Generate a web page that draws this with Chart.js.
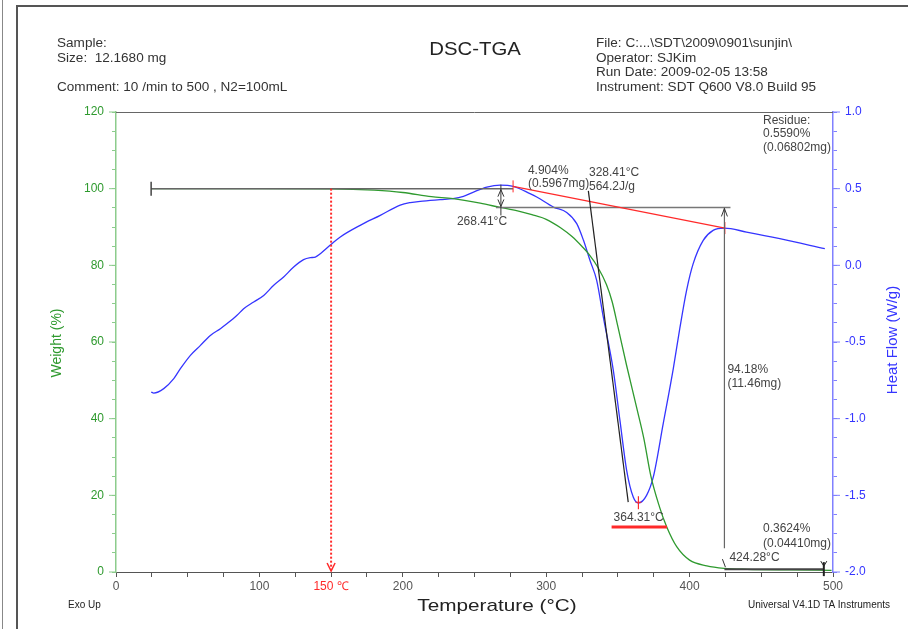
<!DOCTYPE html>
<html>
<head>
<meta charset="utf-8">
<script src="https://cdn.jsdelivr.net/npm/chart.js@4.4.0/dist/chart.umd.min.js"></script>
<style>
  html,body{margin:0;padding:0;background:#fff;}
  #wrap{position:relative;width:908px;height:629px;overflow:hidden;}
  #frame{position:absolute;left:16px;top:5px;right:-10px;bottom:-10px;border-left:2px solid #555;border-top:2px solid #555;}
  #edge{position:absolute;left:2px;top:0;width:1px;height:629px;background:#888;}
  canvas{position:absolute;left:0;top:0;}
</style>
</head>
<body>
<div id="wrap">
  <div id="edge"></div>
  <div id="frame"></div>
  <canvas id="c" width="908" height="629"></canvas>
</div>
<script>
// ---- Data ----
const tgaTemp   = [25, 50, 100, 150, 180, 200, 220, 235, 254, 268, 280, 290, 300, 310, 318, 325, 330, 336, 342, 346, 350, 356, 363, 368, 373, 379, 384, 391, 400, 412, 424, 440, 470, 499];
const tgaWeight = [100, 100, 100, 99.95, 99.6, 99.0, 97.9, 97.4, 96.2, 95.1, 94.2, 93.2, 92.0, 89.8, 87.5, 84.9, 82.8, 79.5, 75.0, 70.5, 64.0, 54.0, 43.0, 35.0, 25.0, 17.0, 11.8, 6.6, 3.1, 1.6, 0.95, 0.7, 0.55, 0.45];

const dscTemp = [24.5, 26.3, 33.3, 40.3, 44.9, 51.9, 58.9, 65.8, 72.8, 77.5, 84.4, 89, 96, 103, 110, 116.9, 123.9, 130.8, 135.5, 139, 142.5, 150.1, 156.4, 170.3, 184.3, 198.2, 205.2, 214, 226, 235, 242.3, 249.3, 258.6, 268, 277, 288.7, 293.4, 305, 314.3, 321.3, 326, 330.5, 335.2, 339.8, 346.8, 351.4, 356.1, 360.7, 364.3, 370, 374.7, 381.6, 388.6, 393.2, 397.9, 402.5, 409.5, 416.4, 424.3, 439.7, 462.9, 494.3];
const dscHeat = [-0.826, -0.833, -0.804, -0.739, -0.674, -0.587, -0.522, -0.457, -0.413, -0.38, -0.326, -0.283, -0.239, -0.196, -0.13, -0.076, -0.011, 0.037, 0.05, 0.054, 0.076, 0.137, 0.185, 0.261, 0.326, 0.393, 0.409, 0.419, 0.429, 0.435, 0.45, 0.478, 0.51, 0.523, 0.515, 0.468, 0.446, 0.38, 0.345, 0.272, 0.163, 0.033, -0.098, -0.337, -0.685, -1.01, -1.337, -1.511, -1.55, -1.5, -1.38, -1.033, -0.675, -0.41, -0.163, 0.011, 0.163, 0.228, 0.243, 0.217, 0.174, 0.109];

// axis ranges / ticks
const tempRange = [0, 500], tempStep = 25, tempLabelEvery = 100;
const weightRange = [0, 120], weightStep = 5, weightLabelEvery = 20;
const heatRange = [-2, 1], heatStep = 0.125, heatLabelEvery = 0.5;

// annotation values (data units)
const stepStartT = 24.5, stepEndT = 276.9, firstStepT = 268.41, firstStepW = [100, 95.1];
const secondLineT = [265, 428.5];
const baselineDSC = [[276.9, 0.515], [424.6, 0.243]];
const onsetLine = [[329.4, 0.446], [357.2, -1.544]];
const peakT = 364.31, peakH = -1.545;
const peakBarT = [345.6, 384.2], peakBarH = -1.707;
const mainStepT = 424.28, mainStepW = [95.1, 6.2];
const residueLineT = [424.28, 493.6], residueW = 0.75;
const markT = 150;

const GREEN = '#2f9a2f', BLUE = '#3535ff', RED = '#ff2a2a';
const FONT = '"Liberation Sans", Arial, sans-serif';

const annot = {
  id: 'annot',
  afterDatasetsDraw(chart) {
    const ctx = chart.ctx, X = chart.scales.x, W = chart.scales.yW, H = chart.scales.yH;
    const px = v => X.getPixelForValue(v), pw = v => W.getPixelForValue(v), ph = v => H.getPixelForValue(v);
    const a = chart.chartArea;
    ctx.save();
    const line = (x1, y1, x2, y2, col, lw) => { ctx.beginPath(); ctx.strokeStyle = col; ctx.lineWidth = lw || 1; ctx.moveTo(x1, y1); ctx.lineTo(x2, y2); ctx.stroke(); };
    const stext = (t, x, y, sx) => { ctx.save(); ctx.translate(x, y); ctx.scale(sx, 1); ctx.fillText(t, 0, 0); ctx.restore(); };
    // top border
    line(a.left, a.top + 0.5, a.right, a.top + 0.5, '#666', 1);

    // longer major ticks
    for (let v = 0; v <= 120; v += 20) line(a.left - 7, pw(v), a.left, pw(v), '#8ccc8c', 1);
    for (let v = -2; v <= 1; v += 0.5) line(a.right, ph(v), a.right + 7, ph(v), '#8080ff', 1);

    // 100% horizontal line with start cap
    line(px(stepStartT), pw(100), px(stepEndT), pw(100), '#666', 1.5);
    line(px(stepStartT), pw(100) - 7, px(stepStartT), pw(100) + 7, '#444', 1.5);
    // second horizontal line
    line(px(secondLineT[0]), pw(firstStepW[1]), px(secondLineT[1]), pw(firstStepW[1]), '#777', 1.5);
    // first step double arrow
    const fx = px(firstStepT);
    line(fx, pw(firstStepW[0]) - 4, fx, pw(firstStepW[1]) + 8, '#333', 1);
    ctx.beginPath(); ctx.strokeStyle = '#333'; ctx.lineWidth = 1;
    ctx.moveTo(fx - 3, pw(firstStepW[0]) + 8); ctx.lineTo(fx, pw(firstStepW[0]) + 1); ctx.lineTo(fx + 3, pw(firstStepW[0]) + 8);
    ctx.moveTo(fx - 3, pw(firstStepW[1]) - 8); ctx.lineTo(fx, pw(firstStepW[1]) - 1); ctx.lineTo(fx + 3, pw(firstStepW[1]) - 8);
    ctx.stroke();

    // red DSC baseline
    const b0x = px(baselineDSC[0][0]), b0y = ph(baselineDSC[0][1]), b1x = px(baselineDSC[1][0]), b1y = ph(baselineDSC[1][1]);
    line(b0x, b0y, b1x, b1y, RED, 1.2);
    line(b0x, b0y - 6, b0x, b0y + 6, RED, 1);
    line(b1x, b1y - 6, b1x, b1y + 6, RED, 1);
    // onset tangent
    line(px(onsetLine[0][0]), ph(onsetLine[0][1]) - 6, px(onsetLine[1][0]), ph(onsetLine[1][1]), '#222', 1.2);
    // peak marker
    line(px(peakT), ph(peakH) - 6, px(peakT), ph(peakH) + 7, RED, 1.2);
    line(px(peakT) - 3, ph(peakH), px(peakT) + 3, ph(peakH), RED, 1);
    // thick red bar
    line(px(peakBarT[0]), ph(peakBarH), px(peakBarT[1]), ph(peakBarH), RED, 3);

    // main step vertical line with arrow
    const mx = px(mainStepT);
    line(mx, pw(mainStepW[0]), mx, pw(mainStepW[1]), '#666', 1.2);
    ctx.beginPath(); ctx.strokeStyle = '#333'; ctx.lineWidth = 1;
    ctx.moveTo(mx - 3, pw(mainStepW[0]) + 9); ctx.lineTo(mx, pw(mainStepW[0]) + 1); ctx.lineTo(mx + 3, pw(mainStepW[0]) + 9); ctx.stroke();
    line(mx - 2, pw(residueW) - 10, mx + 1, pw(residueW) - 2, '#333', 1);
    // residue line
    line(px(residueLineT[0]), pw(residueW), px(residueLineT[1]), pw(residueW), '#444', 2);
    const rx = px(residueLineT[1]);
    line(rx, pw(residueW) - 7, rx, pw(residueW) + 7, '#222', 2);
    line(rx - 3, pw(residueW) - 8, rx, pw(residueW) - 3, '#222', 1);
    line(rx + 3, pw(residueW) - 8, rx, pw(residueW) - 3, '#222', 1);

    // red dotted line at 150 C
    const dx = px(markT);
    ctx.beginPath(); ctx.setLineDash([2, 2]); ctx.strokeStyle = RED; ctx.lineWidth = 2;
    ctx.moveTo(dx, pw(100)); ctx.lineTo(dx, a.bottom - 2); ctx.stroke(); ctx.setLineDash([]);
    ctx.beginPath(); ctx.strokeStyle = RED; ctx.lineWidth = 1.5;
    ctx.moveTo(dx - 4, a.bottom - 9); ctx.lineTo(dx, a.bottom - 1); ctx.lineTo(dx + 4, a.bottom - 9); ctx.stroke();

    // annotation texts
    ctx.fillStyle = '#444'; ctx.font = '12px ' + FONT; ctx.textBaseline = 'middle'; ctx.textAlign = 'left';
    ctx.fillText('268.41°C', fx - 44, pw(firstStepW[1]) + 14);
    ctx.fillText('4.904%', fx + 27, pw(100) - 18);
    ctx.fillText('(0.5967mg)', fx + 27, pw(100) - 5);
    ctx.fillText('328.41°C', 589, pw(100) - 16);
    ctx.fillText('564.2J/g', 589, pw(100) - 2);
    ctx.fillText('364.31°C', px(peakBarT[0]) + 2, ph(peakBarH) - 9);
    ctx.fillText('94.18%', mx + 3, 370);
    ctx.fillText('(11.46mg)', mx + 3, 384);
    ctx.fillText('424.28°C', mx + 5, 558);
    ctx.fillText('0.3624%', 763, 529);
    ctx.fillText('(0.04410mg)', 763, 544);
    ctx.fillText('Residue:', 763, 121);
    ctx.fillText('0.5590%', 763, 134);
    ctx.fillText('(0.06802mg)', 763, 148);

    // red 150 label
    ctx.fillStyle = RED; ctx.textAlign = 'center'; ctx.font = '12px ' + FONT;
    ctx.fillText('150 ℃', dx, 587);

    // axis titles
    ctx.fillStyle = '#222'; ctx.font = '17px ' + FONT;
    stext('Temperature (°C)', 497, 606, 1.22);
    ctx.save(); ctx.translate(57, 343); ctx.rotate(-Math.PI / 2);
    ctx.fillStyle = GREEN; ctx.font = '14px ' + FONT; ctx.fillText('Weight (%)', 0, 0); ctx.restore();
    ctx.save(); ctx.translate(893, 340); ctx.rotate(-Math.PI / 2);
    ctx.fillStyle = BLUE; ctx.font = '15px ' + FONT; ctx.fillText('Heat Flow (W/g)', 0, 0); ctx.restore();

    // footer texts
    ctx.fillStyle = '#222'; ctx.font = '10px ' + FONT; ctx.textAlign = 'left';
    ctx.fillText('Exo Up', 68, 605);
    ctx.fillText('Universal V4.1D TA Instruments', 748, 605);

    // header
    ctx.fillStyle = '#333'; ctx.font = '12px ' + FONT;
    const hs = 1.13;
    stext('Sample:', 57, 44, hs);
    stext('Size:  12.1680 mg', 57, 59, hs);
    stext('Comment: 10 /min to 500 , N2=100mL', 57, 88, hs);
    stext('File: C:...\\SDT\\2009\\0901\\sunjin\\', 596, 44, hs);
    stext('Operator: SJKim', 596, 59, hs);
    stext('Run Date: 2009-02-05 13:58', 596, 73, hs);
    stext('Instrument: SDT Q600 V8.0 Build 95', 596, 88, hs);
    ctx.textAlign = 'center'; ctx.font = '18px ' + FONT; ctx.fillStyle = '#222';
    stext('DSC-TGA', 475, 50, 1.13);
    ctx.restore();
  }
};

const near = (v, step) => Math.abs(v / step - Math.round(v / step)) < 1e-6;

new Chart(document.getElementById('c'), {
  type: 'line',
  data: {
    datasets: [
      { label: 'Weight', data: tgaTemp.map((t, i) => ({ x: t, y: tgaWeight[i] })), yAxisID: 'yW',
        borderColor: GREEN, borderWidth: 1.3, pointRadius: 0, cubicInterpolationMode: 'monotone', fill: false },
      { label: 'Heat Flow', data: dscTemp.map((t, i) => ({ x: t, y: dscHeat[i] })), yAxisID: 'yH',
        borderColor: BLUE, borderWidth: 1.3, pointRadius: 0, cubicInterpolationMode: 'monotone', fill: false }
    ]
  },
  options: {
    responsive: false, animation: false, devicePixelRatio: 1,
    layout: { padding: { top: 112, left: 0, right: 0, bottom: 0 } },
    plugins: { legend: { display: false }, tooltip: { enabled: false } },
    scales: {
      x: {
        type: 'linear', min: tempRange[0], max: tempRange[1],
        afterFit: s => { s.height = 57; },
        ticks: { stepSize: tempStep, autoSkip: false, maxRotation: 0, padding: 2, color: '#555', font: { family: FONT, size: 12 },
          callback: v => near(v, tempLabelEvery) ? String(v) : '' },
        grid: { drawOnChartArea: false, drawTicks: true, tickLength: 5, color: '#555' },
        border: { color: '#555', width: 1 }
      },
      yW: {
        position: 'left', min: weightRange[0], max: weightRange[1],
        afterFit: s => { s.width = 116; },
        ticks: { stepSize: weightStep, autoSkip: false, padding: 8, color: GREEN, font: { family: FONT, size: 12 },
          callback: v => near(v, weightLabelEvery) ? String(v) : '' },
        grid: { drawOnChartArea: false, drawTicks: true, tickLength: 4, color: '#8ccc8c' },
        border: { color: '#8ccc8c', width: 1.5 }
      },
      yH: {
        position: 'right', min: heatRange[0], max: heatRange[1],
        afterFit: s => { s.width = 75; },
        ticks: { stepSize: heatStep, autoSkip: false, padding: 8, color: BLUE, font: { family: FONT, size: 12 },
          callback: v => near(v, heatLabelEvery) ? v.toFixed(1) : '' },
        grid: { drawOnChartArea: false, drawTicks: true, tickLength: 4, color: '#8080ff' },
        border: { color: '#8080ff', width: 1.5 }
      }
    }
  },
  plugins: [annot]
});
</script>
</body>
</html>
